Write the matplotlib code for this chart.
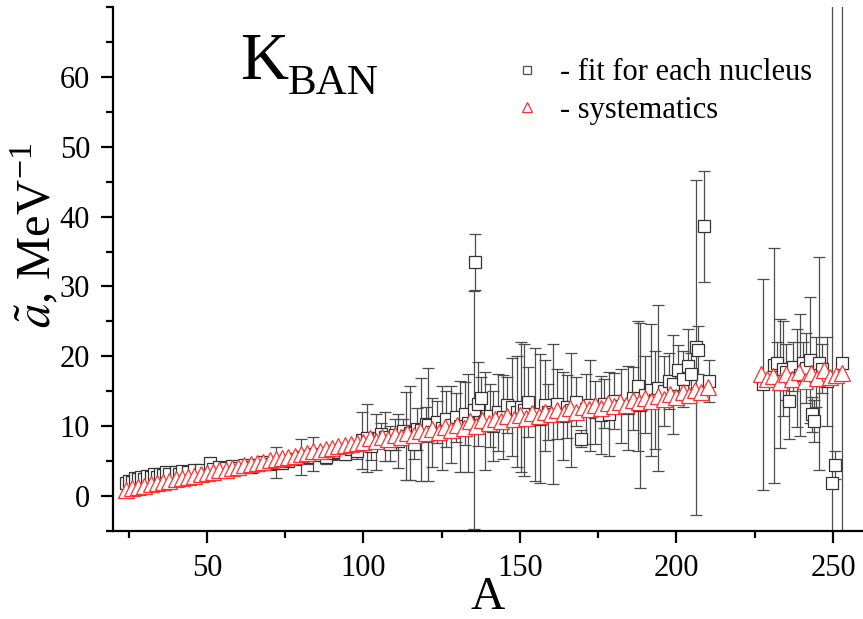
import matplotlib
matplotlib.use('Agg')
from matplotlib import pyplot as plt
from matplotlib.ticker import MultipleLocator
from matplotlib.lines import Line2D

plt.rcParams['font.family'] = ['Liberation Serif', 'DejaVu Serif']
plt.rcParams['mathtext.fontset'] = 'stix'

# fit for each nucleus: mass number, value, error
fit_A = [24, 25, 26, 27, 28, 29, 30, 31, 32, 33,
         34, 35, 36, 37, 38, 40, 41, 42, 44, 46,
         48, 51, 52, 54, 56, 58, 60, 62, 64, 66,
         68, 70, 72, 74, 76, 78, 80, 82, 84, 86,
         88, 90, 92, 94, 96, 98,
         99.7, 101, 102.5, 104, 105.5, 107, 108.5, 110, 111, 112.5,
         113.6, 114.8, 116, 117, 118.5, 120, 120.6, 122, 123.5, 125,
         126.5, 128, 129.5, 131, 132.5, 133.5, 135.2, 135.6, 136.5, 137.5,
         139, 140.5, 141.5, 143, 144.5, 146, 147.6, 149, 150.5, 151.3,
         152.5, 154.7, 156.5, 158, 159, 160.5, 162, 163.7, 165, 166.3,
         168, 169.5, 171, 172.5, 174, 175.9, 177, 178.5, 180, 182.2,
         184.4, 186, 187.6, 188.5, 190, 191.9, 193, 194, 196, 197.5,
         198.8, 200.4, 202, 203.6, 204.5, 206.3, 206.9, 208.9, 210.5, 227.5,
         231.3, 232, 233, 234, 235, 236, 237.3, 238.5, 239.4, 240.5,
         241.5, 242.6, 243.3, 243.8, 244.5, 245.5, 246.5, 248, 249.8, 250.6,
         252.8]
fit_val = [1.8, 2.2, 2.0, 2.6, 2.4, 2.8, 2.5, 2.9, 2.7, 3.1,
           2.8, 3.2, 3.0, 3.4, 3.1, 3.4, 3.2, 3.6, 3.5, 3.7,
           3.8, 4.8, 3.9, 4.1, 4.0, 4.3, 4.0, 4.4, 4.2, 4.5,
           4.9, 4.6, 4.8, 4.7, 5.0, 5.3, 5.6, 5.6, 6.0, 5.9,
           5.6, 6.1, 6.3, 6.0, 6.7, 6.5,
           8.0, 8.3, 7.2, 7.8, 8.9, 8.5, 7.5, 8.8, 7.9, 9.3,
           8.6, 9.0, 7.5, 9.6, 9.5, 10.3, 10.2, 9.1, 10.6, 9.8,
           11.0, 10.2, 11.3, 10.0, 11.8, 10.5, 12.3, 33.5, 13.2, 14.0,
           10.8, 11.5, 10.0, 12.0, 11.3, 13.0, 12.7, 12.1, 12.7, 12.3,
           13.5, 11.7, 11.1, 13.0, 12.0, 11.7, 13.2, 11.4, 12.8, 12.3,
           13.5, 8.2, 12.5, 13.0, 12.0, 11.6, 13.2, 11.8, 13.6, 12.9,
           12.6, 14.0, 15.7, 13.0, 14.5, 15.2, 13.8, 15.5, 15.0, 16.5,
           16.0, 18.1, 16.8, 18.6, 17.5, 21.3, 20.9, 38.6, 16.5, 16.0,
           18.7, 19.0, 16.1, 18.2, 17.8, 13.6, 18.5, 16.9, 17.3, 19.0,
           18.3, 19.5, 11.7, 10.8, 17.8, 19.0, 18.2, 16.4, 1.8, 4.4,
           19.0]
fit_err = [0.4, 0.5, 0.4, 0.5, 0.4, 0.5, 0.4, 0.5, 0.4, 0.5,
           0.4, 0.5, 0.4, 0.5, 0.4, 0.5, 0.4, 0.5, 0.4, 0.5,
           0.4, 0.5, 0.4, 0.4, 0.5, 0.5, 0.4, 0.5, 0.5, 0.5,
           0.6, 0.5, 2.2, 0.5, 0.6, 0.7, 2.6, 1.0, 2.4, 0.8,
           1.0, 0.9, 0.7, 0.8, 0.9, 1.2,
           4.1, 4.9, 2.0, 4.0, 1.5, 3.5, 2.5, 2.2, 3.9, 1.8,
           6.3, 6.7, 2.2, 3.0, 7.4, 2.5, 8.1, 5.0, 3.0, 6.0,
           4.0, 5.5, 3.5, 6.5, 4.5, 7.0, 17.0, 4.0, 6.0, 3.0,
           7.0, 4.5, 5.0, 5.5, 6.0, 4.0, 7.0, 8.0, 9.3, 9.4,
           5.0, 9.5, 9.2, 6.5, 4.0, 10.0, 5.0, 6.3, 4.5, 8.2,
           3.5, 1.2, 5.0, 6.5, 4.5, 5.6, 3.5, 6.0, 4.0, 5.3,
           6.0, 4.5, 9.3, 11.8, 5.5, 9.4, 7.0, 11.9, 5.0, 4.0,
           7.1, 3.5, 4.0, 5.3, 3.0, 24.0, 3.5, 7.9, 3.0, 15.1,
           16.8, 3.0, 9.2, 6.8, 4.0, 5.5, 3.5, 7.0, 8.7, 3.0,
           5.0, 9.0, 2.5, 3.0, 5.0, 15.2, 3.5, 6.3, 75.0, 2.0,
           75.0]

# systematics
sys_A = [24, 26, 28, 30, 32, 34, 36, 38, 40, 42,
         44, 46, 48, 50, 52, 54, 56, 58, 60, 62,
         64, 66, 68, 70, 72, 74, 76, 78, 80, 82,
         84, 86, 88, 90, 92, 94, 96, 98,
         100, 102, 104, 106, 108, 110, 112, 114, 116, 118,
         120, 122, 124, 126, 128, 130, 132, 134, 136, 138,
         140, 142, 144, 146, 148, 150, 152, 154, 156, 158,
         160, 162, 164, 166, 168, 170, 172, 174, 176, 178,
         180, 182, 184, 186, 188, 190, 192, 194, 196, 198,
         200, 202, 204, 206, 208, 210,
         227, 229, 231, 233, 235, 237, 239, 241, 243, 245,
         247, 249, 251, 253]
sys_val = [0.9, 1.1, 1.3, 1.5, 1.7, 1.9, 2.0, 2.2, 2.4, 2.6,
           2.8, 2.9, 3.1, 3.3, 3.5, 3.7, 3.8, 4.0, 4.2, 4.4,
           4.6, 4.7, 4.9, 5.1, 5.3, 5.5, 5.6, 5.8, 6.0, 6.2,
           6.4, 6.5, 6.7, 6.9, 7.1, 7.3, 7.4, 7.6,
           7.8, 8.3, 7.9, 8.5, 8.2, 8.8, 8.4, 9.0, 8.7, 9.3,
           9.0, 9.6, 9.2, 9.9, 9.5, 10.2, 9.8, 10.7, 10.1, 10.9,
           10.4, 11.1, 10.7, 11.4, 11.0, 11.6, 11.2, 11.9, 11.4, 12.1,
           11.7, 12.3, 11.9, 12.6, 12.1, 12.8, 12.4, 13.0, 12.6, 13.3,
           12.9, 13.5, 13.1, 13.8, 13.4, 14.0, 13.6, 14.3, 13.9, 14.6,
           14.2, 14.9, 14.5, 15.2, 14.9, 15.6,
           17.4, 16.8, 17.2, 16.3, 17.5, 16.8, 17.8, 16.5, 17.6, 16.9,
           18.0, 17.0, 17.3, 17.6]

fig = plt.figure(figsize=(8.63, 6.19), dpi=100)
ax = fig.add_axes([113/863, 88/619, 750/863, 524/619])

ax.errorbar(fit_A, fit_val, yerr=fit_err, fmt='none', ecolor='0.3',
            elinewidth=0.9, capsize=4.5, capthick=0.9, zorder=2)
ax.plot(fit_A, fit_val, ls='none', marker='s', ms=8, mfc='white',
        mec='0.2', mew=0.9, zorder=3)
ax.plot(sys_A, sys_val, ls='none', marker='^', ms=11, mfc='white',
        mec='#ff3030', mew=0.9, zorder=4)

ax.set_xlim(20, 259.6)
ax.set_ylim(-5, 70)
ax.xaxis.set_major_locator(MultipleLocator(50))
ax.xaxis.set_minor_locator(MultipleLocator(25))
ax.yaxis.set_major_locator(MultipleLocator(10))
ax.yaxis.set_minor_locator(MultipleLocator(5))
ax.set_yticks([0, 10, 20, 30, 40, 50, 60])
ax.spines['top'].set_visible(False)
ax.spines['right'].set_visible(False)
for s in ['left', 'bottom']:
    ax.spines[s].set_linewidth(1.6)
ax.tick_params(which='major', direction='out', length=8.5, width=1.6,
               labelsize=22, pad=8)
ax.tick_params(which='minor', direction='out', length=5, width=1.6)

fig.text(488/863, 1-598/619, 'A', fontsize=34, ha='center', va='center')
fig.text(35/863, 1-235/619, r'$\tilde{a}$, MeV$^{\mathregular{-1}}$', fontsize=35,
         rotation=90, ha='center', va='center')

fig.text(240/863, 1-79/619, 'K', fontsize=48, ha='left', va='baseline')
fig.text(288/863, 1-94/619, 'BAN', fontsize=31, ha='left', va='baseline')

handles = [Line2D([], [], ls='none', marker='s', ms=6, mfc='white', mec='0.3', mew=0.9),
           Line2D([], [], ls='none', marker='^', ms=7.5, mfc='white', mec='#ff3030', mew=0.9)]
ax.legend(handles, ['- fit for each nucleus', '- systematics'], loc='upper left',
          bbox_to_anchor=((499-113)/750, (531-46)/524), frameon=False,
          fontsize=22, handlelength=1.0, handletextpad=0.6, labelspacing=0.28,
          borderaxespad=0)

fig.savefig('out.png', dpi=100)
